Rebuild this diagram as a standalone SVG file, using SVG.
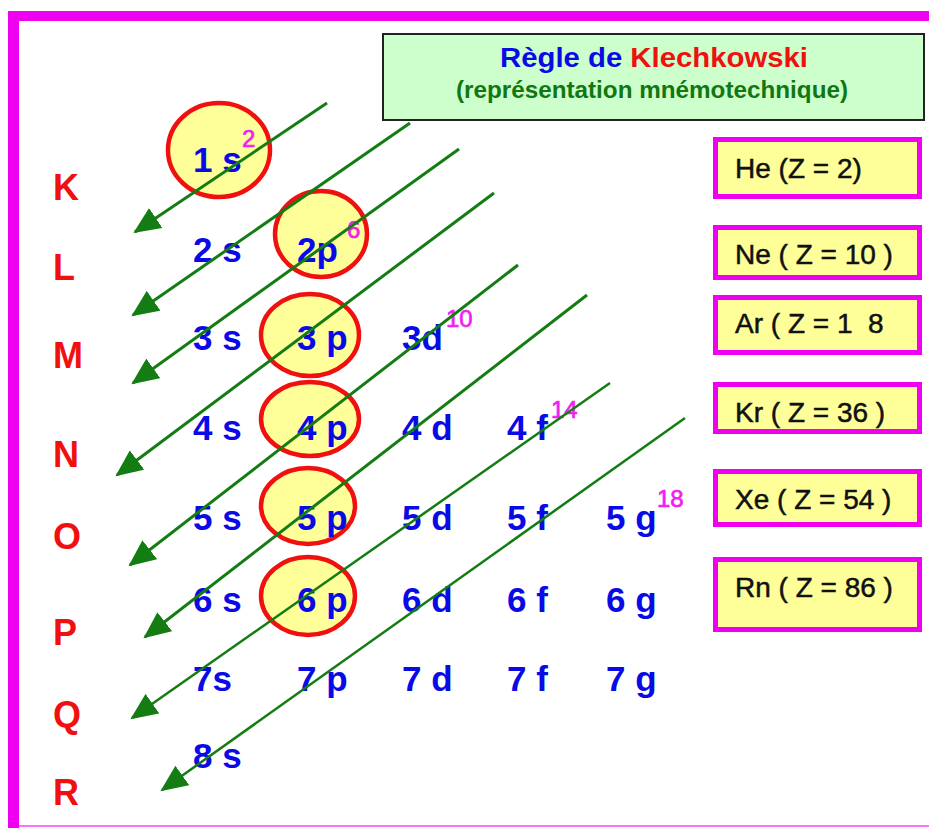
<svg xmlns="http://www.w3.org/2000/svg" width="929" height="828" viewBox="0 0 929 828">
<defs>
<style>
text{font-family:"Liberation Sans",Arial,sans-serif}
.lbl{font-size:35px;font-weight:bold;fill:#0a0ae6}
.sup{font-size:24px;fill:#f01ef0;stroke:#f01ef0;stroke-width:0.7}
.shell{font-size:36px;font-weight:bold;fill:#f01010}
.orb{fill:#ffff99;stroke:#f01010;stroke-width:4.5}
.box{fill:#ffff99;stroke:#f000f0;stroke-width:5}
.gas{font-size:28px;fill:#111;stroke:#111;stroke-width:0.5}
.arr{stroke:#137d13;stroke-width:3;fill:none;marker-end:url(#ah)}
.thin{stroke-width:2.5}
</style>
<marker id="ah" markerUnits="userSpaceOnUse" markerWidth="28" markerHeight="24" refX="25" refY="12" orient="auto">
<path d="M0,0 L27,12 L0,24 Z" fill="#137d13"/>
</marker>
</defs>
<rect x="0" y="0" width="929" height="828" fill="#fff"/>
<g id="frame">
<rect x="8" y="11" width="921" height="10" fill="#f000f0"/>
<rect x="8" y="11" width="11" height="817" fill="#f000f0"/>
<line x1="19" y1="826" x2="929" y2="826" stroke="#ff70ff" stroke-width="2"/>
</g>
<g id="title">
<rect x="383" y="34" width="541" height="86" fill="#ccffcc" stroke="#222" stroke-width="2"/>
<text x="654" y="67" text-anchor="middle" font-size="27" font-weight="bold" textLength="308" lengthAdjust="spacingAndGlyphs"><tspan fill="#0a0ae6">Règle de </tspan><tspan fill="#f01010">Klechkowski</tspan></text>
<text x="652" y="98" text-anchor="middle" font-size="23" font-weight="bold" fill="#117711" textLength="392" lengthAdjust="spacingAndGlyphs">(représentation mnémotechnique)</text>
</g>
<g id="shells">
<text class="shell" x="53" y="200">K</text>
<text class="shell" x="53" y="280">L</text>
<text class="shell" x="53" y="368">M</text>
<text class="shell" x="53" y="467">N</text>
<text class="shell" x="53" y="549">O</text>
<text class="shell" x="53" y="645">P</text>
<text class="shell" x="53" y="727">Q</text>
<text class="shell" x="53" y="805">R</text>
</g>
<g id="circles">
<ellipse class="orb" cx="219" cy="150" rx="51" ry="47"/>
<ellipse class="orb" cx="321" cy="234" rx="46" ry="43"/>
<ellipse class="orb" cx="310" cy="335" rx="49" ry="41"/>
<ellipse class="orb" cx="310" cy="419" rx="49" ry="37"/>
<ellipse class="orb" cx="308" cy="506" rx="47" ry="38"/>
<ellipse class="orb" cx="308" cy="596" rx="47" ry="39"/>
</g>
<g id="o1s"><text class="lbl" x="193" y="172">1 s</text><text class="sup" x="242" y="147">2</text></g>
<g id="o2s"><text class="lbl" x="193" y="262">2 s</text></g>
<g id="o2p"><text class="lbl" x="297" y="262">2p</text><text class="sup" x="347" y="238">6</text></g>
<g id="o3s"><text class="lbl" x="193" y="350">3 s</text></g>
<g id="o3p"><text class="lbl" x="297" y="350">3 p</text></g>
<g id="o3d"><text class="lbl" x="402" y="350">3d</text><text class="sup" x="446" y="327">10</text></g>
<g id="o4s"><text class="lbl" x="193" y="440">4 s</text></g>
<g id="o4p"><text class="lbl" x="297" y="440">4 p</text></g>
<g id="o4d"><text class="lbl" x="402" y="440">4 d</text></g>
<g id="o4f"><text class="lbl" x="507" y="440">4 f</text><text class="sup" x="551" y="418">14</text></g>
<g id="o5s"><text class="lbl" x="193" y="530">5 s</text></g>
<g id="o5p"><text class="lbl" x="297" y="530">5 p</text></g>
<g id="o5d"><text class="lbl" x="402" y="530">5 d</text></g>
<g id="o5f"><text class="lbl" x="507" y="530">5 f</text></g>
<g id="o5g"><text class="lbl" x="606" y="530">5 g</text><text class="sup" x="657" y="507">18</text></g>
<g id="o6s"><text class="lbl" x="193" y="612">6 s</text></g>
<g id="o6p"><text class="lbl" x="297" y="612">6 p</text></g>
<g id="o6d"><text class="lbl" x="402" y="612">6 d</text></g>
<g id="o6f"><text class="lbl" x="507" y="612">6 f</text></g>
<g id="o6g"><text class="lbl" x="606" y="612">6 g</text></g>
<g id="o7s"><text class="lbl" x="193" y="691">7s</text></g>
<g id="o7p"><text class="lbl" x="297" y="691">7 p</text></g>
<g id="o7d"><text class="lbl" x="402" y="691">7 d</text></g>
<g id="o7f"><text class="lbl" x="507" y="691">7 f</text></g>
<g id="o7g"><text class="lbl" x="606" y="691">7 g</text></g>
<g id="o8s"><text class="lbl" x="193" y="768">8 s</text></g>
<g id="gases">
<g id="he"><rect class="box" x="715.5" y="139.5" width="204" height="57"/><text class="gas" x="735" y="178">He (Z = 2)</text></g>
<g id="ne"><rect class="box" x="715.5" y="227.5" width="204" height="50"/><text class="gas" x="735" y="264">Ne ( Z = 10 )</text></g>
<g id="ar"><rect class="box" x="715.5" y="297.5" width="204" height="55"/><text class="gas" x="735" y="333" xml:space="preserve">Ar ( Z = 1  8</text></g>
<g id="kr"><rect class="box" x="715.5" y="384.5" width="204" height="47"/><text class="gas" x="735" y="422">Kr ( Z = 36 )</text></g>
<g id="xe"><rect class="box" x="715.5" y="471.5" width="204" height="53"/><text class="gas" x="735" y="509">Xe ( Z = 54 )</text></g>
<g id="rn"><rect class="box" x="715.5" y="559.5" width="204" height="70"/><text class="gas" x="735" y="597">Rn ( Z = 86 )</text></g>
</g>
<g id="connectors">
<line class="arr" x1="327" y1="103" x2="135" y2="232"/>
<line class="arr" x1="410" y1="123" x2="133" y2="315"/>
<line class="arr" x1="459" y1="149" x2="133" y2="383"/>
<line class="arr" x1="494" y1="193" x2="117" y2="475"/>
<line class="arr" x1="518" y1="265" x2="130" y2="565"/>
<line class="arr" x1="587" y1="295" x2="145" y2="637"/>
<line class="arr thin" x1="610" y1="383" x2="132" y2="718"/>
<line class="arr thin" x1="685" y1="418" x2="162" y2="790"/>
</g>
</svg>
